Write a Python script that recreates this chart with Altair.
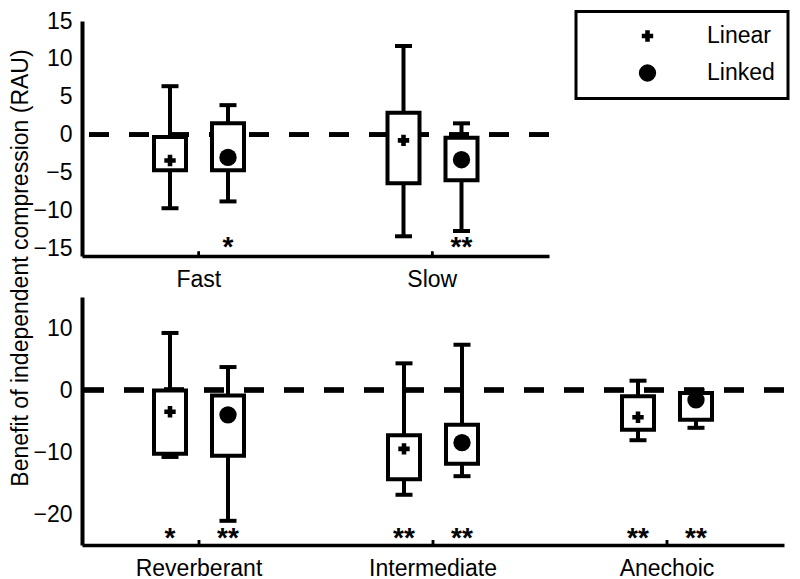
import altair as alt
import pandas as pd

FONT = "Liberation Sans"
FS = 23
SERIES = ["Linear", "Linked"]
Y_TITLE = "Benefit of independent compression (RAU)"

# ---- top panel (compression speed) ----
top_cats = ["Fast", "Slow"]
top_cat = ["Fast", "Fast", "Slow", "Slow"]
top_series = ["Linear", "Linked", "Linear", "Linked"]
top_lo = [-9.7, -8.8, -13.4, -12.7]
top_q1 = [-4.7, -4.7, -6.4, -6.0]
top_q3 = [-0.3, 1.5, 2.9, -0.4]
top_hi = [6.4, 3.9, 11.7, 1.5]
top_mean = [-3.4, -3.0, -0.75, -3.3]
top_stars = ["", "*", "", "**"]
top_ticks = [-15, -10, -5, 0, 5, 10, 15]

# ---- bottom panel (room acoustics) ----
bot_cats = ["Reverberant", "Intermediate", "Anechoic"]
bot_cat = ["Reverberant", "Reverberant", "Intermediate", "Intermediate", "Anechoic", "Anechoic"]
bot_series = ["Linear", "Linked", "Linear", "Linked", "Linear", "Linked"]
bot_lo = [-10.8, -21.1, -16.9, -13.9, -8.1, -6.1]
bot_q1 = [-10.3, -10.6, -14.4, -11.9, -6.4, -4.8]
bot_q3 = [-0.1, -0.9, -7.3, -5.6, -1.0, -0.5]
bot_hi = [9.2, 3.7, 4.3, 7.3, 1.5, 0.0]
bot_mean = [-3.5, -4.0, -9.5, -8.5, -4.4, -1.6]
bot_stars = ["*", "**", "**", "**", "**", "**"]
bot_ticks = [-20, -10, 0, 10]


def frame(cat, ser, lo, q1, q3, hi, mean, stars):
    return pd.DataFrame({"cat": cat, "series": ser, "lo": lo, "q1": q1,
                         "q3": q3, "hi": hi, "mean": mean, "stars": stars})


def panel(df, cats, ydom, yvals, width, height, star_y, tick_top, legend, title):
    xaxis = alt.Axis(title=None, labelAngle=0, ticks=False, tickSize=0, labelPadding=12,
                     domainWidth=3.5, domainColor="black", labelFontSize=FS,
                     labelColor="black", labelFont=FONT, grid=False)
    x = alt.X("cat:N", scale=alt.Scale(domain=cats, paddingInner=0, paddingOuter=0), axis=xaxis)
    xo = alt.XOffset("series:N", scale=alt.Scale(domain=SERIES, range=[72, 162],
                                                 paddingInner=0.448, paddingOuter=0))
    ys = alt.Scale(domain=ydom, nice=False, zero=False)
    yaxis_kw = dict(values=yvals, grid=False, ticks=False, tickSize=0, labelPadding=10,
                    domainWidth=4, domainColor="black", labelFontSize=FS, labelColor="black",
                    labelFont=FONT)
    if title:
        yaxis_kw.update(title=title, titleX=-55, titleY=246.5, titleAngle=270,
                        titleBaseline="alphabetic", titleAlign="center", titleFontSize=FS,
                        titleFontWeight="normal", titleFont=FONT, titleColor="black")
    else:
        yaxis_kw.update(title=None)
    yaxis = alt.Axis(**yaxis_kw)

    base = alt.Chart(df)
    dash = base.mark_rule(strokeDash=[20, 20], strokeWidth=4.5, color="black").encode(
        y=alt.Y(datum=0, scale=ys, axis=yaxis))
    whisk = base.mark_rule(strokeWidth=4, color="black").encode(
        x=x, xOffset=xo, y=alt.Y("lo:Q", scale=ys, axis=yaxis), y2="hi:Q")
    cap_lo = base.mark_tick(orient="horizontal", size=17, thickness=4, color="black", opacity=1).encode(
        x=x, xOffset=xo, y=alt.Y("lo:Q", scale=ys, axis=yaxis))
    cap_hi = base.mark_tick(orient="horizontal", size=17, thickness=4, color="black", opacity=1).encode(
        x=x, xOffset=xo, y=alt.Y("hi:Q", scale=ys, axis=yaxis))
    box = base.mark_bar(fill="white", stroke="black", strokeWidth=4).encode(
        x=x, xOffset=xo, y=alt.Y("q1:Q", scale=ys, axis=yaxis), y2="q3:Q")
    leg = None
    if legend:
        leg = alt.Legend(title=None, orient="none", legendX=494, legendY=-9.5,
                         strokeColor="black", fillColor="white", padding=13,
                         symbolOffset=47, labelOffset=48, rowPadding=13,
                         labelFontSize=FS, labelFont=FONT, labelColor="black",
                         symbolFillColor="black", symbolStrokeWidth=0,
                         labelExpr="datum.label + ' '")
    means = base.mark_point(filled=True, opacity=1, color="black", strokeWidth=0).encode(
        x=x, xOffset=xo, y=alt.Y("mean:Q", scale=ys, axis=yaxis),
        shape=alt.Shape("series:N", scale=alt.Scale(domain=SERIES, range=["cross", "circle"]), legend=leg),
        size=alt.Size("series:N", scale=alt.Scale(domain=SERIES, range=[130, 300]), legend=leg))
    stars = base.mark_text(font=FONT, fontSize=28, fontWeight="bold", baseline="middle",
                           align="center", color="black").encode(
        x=x, xOffset=xo, y=alt.Y(datum=star_y, scale=ys, axis=yaxis), text="stars:N")
    ticks = base.mark_rule(strokeWidth=2.5, color="black").encode(
        x=x, y=alt.Y(datum=ydom[0], scale=ys, axis=yaxis), y2=alt.Y2(datum=tick_top))
    return alt.layer(dash, whisk, cap_lo, cap_hi, box, means, stars, ticks).properties(
        width=width, height=height)


top = panel(frame(top_cat, top_series, top_lo, top_q1, top_q3, top_hi, top_mean, top_stars),
            top_cats, [-16, 15], top_ticks, 467, 235, -14.9, -15.4, True, Y_TITLE)
bottom = panel(frame(bot_cat, bot_series, bot_lo, bot_q1, bot_q3, bot_hi, bot_mean, bot_stars),
               bot_cats, [-25, 15], bot_ticks, 702, 248, -24.0, -24.2, False, None)

chart = alt.vconcat(top, bottom, spacing=41, bounds="flush").resolve_scale(
    shape="independent", size="independent", x="independent", y="independent"
).resolve_legend(shape="independent", size="independent").properties(
    padding={"left": 0, "top": 2, "right": 0, "bottom": 0}
).configure_view(stroke=None).configure_legend(strokeWidth=3, cornerRadius=0)

chart.save("out.html", embed_options={"renderer": "svg", "actions": False})
